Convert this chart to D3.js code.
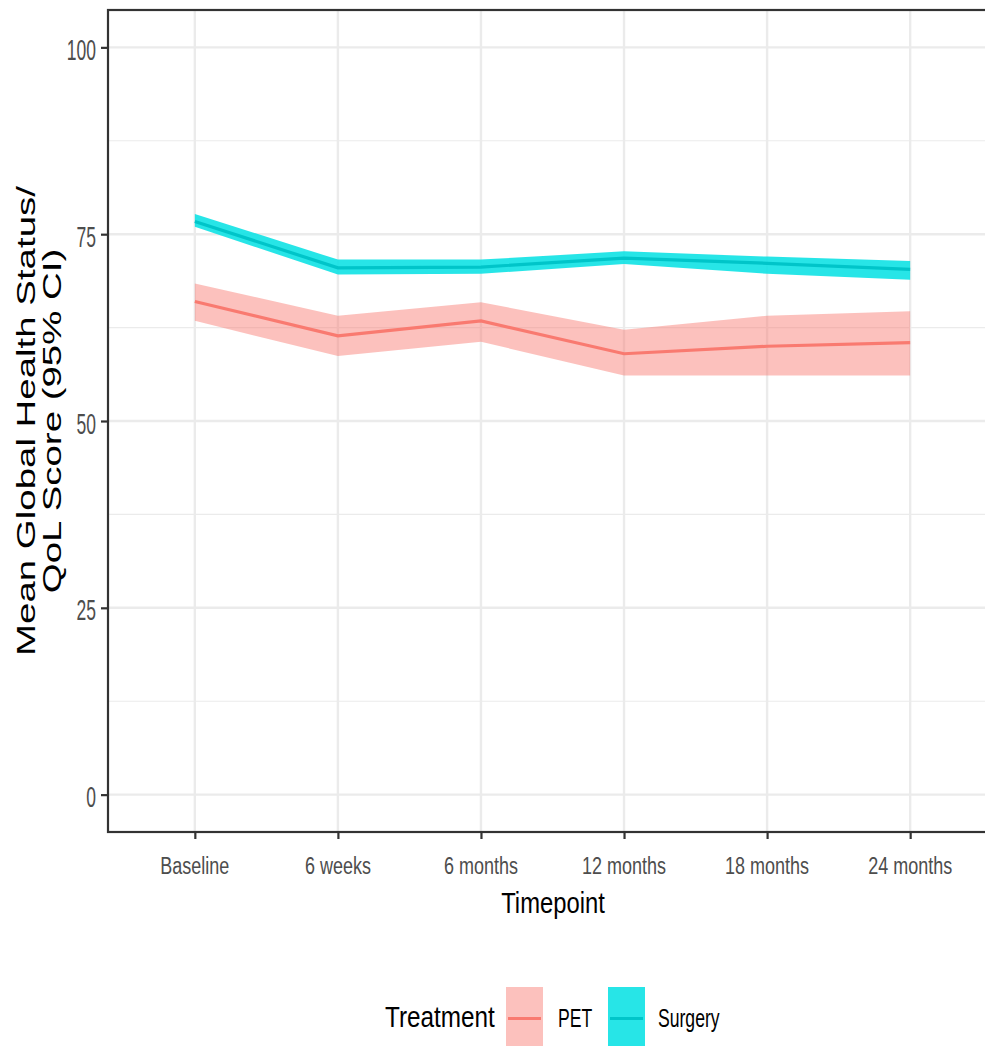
<!DOCTYPE html>
<html>
<head>
<meta charset="utf-8">
<script src="https://cdn.jsdelivr.net/npm/d3@7"></script>
<style>
  html, body { margin: 0; padding: 0; background: #ffffff; }
  svg { display: block; }
  text { font-family: "Liberation Sans", Arial, sans-serif; }
</style>
</head>
<body>
<svg id="chart" width="985" height="1046"></svg>
<script>
// ---------------- data ----------------
const timepoints = ["Baseline", "6 weeks", "6 months", "12 months", "18 months", "24 months"];
const groups = ["PET", "Surgery"];
const petMean  = [66.0, 61.4, 63.4, 59.0, 60.0, 60.5];
const petLower = [63.4, 58.7, 60.6, 56.1, 56.1, 56.1];
const petUpper = [68.4, 64.1, 65.9, 62.2, 64.1, 64.7];
const surgMean  = [76.7, 70.5, 70.6, 71.8, 71.1, 70.3];
const surgLower = [76.0, 69.6, 69.7, 71.0, 69.7, 68.9];
const surgUpper = [77.7, 71.6, 71.6, 72.7, 72.0, 71.4];
const yTicks = [0, 25, 50, 75, 100];
const yMinor = [12.5, 37.5, 62.5, 87.5];

// ---------------- layout ----------------
const svg = d3.select("#chart");
const P = { left: 108, right: 998, top: 10, bottom: 832 };

const x = d3.scalePoint().domain(timepoints).range([P.left + 1, P.right - 2]).padding(0.6);
const y = d3.scaleLinear().domain([-5, 105]).range([P.bottom, P.top]);

const series = [
  { name: "PET", mean: petMean, lo: petLower, hi: petUpper, line: "#F97A70", fill: "#F8766D", fillOp: 0.45 },
  { name: "Surgery", mean: surgMean, lo: surgLower, hi: surgUpper, line: "#00C5C9", fill: "#10E2E4", fillOp: 0.9 }
];

// helper for stretched text
function sText(g, str, tx, ty, size, sx, sy, anchor, color) {
  return g.append("text")
    .attr("transform", `translate(${tx},${ty}) scale(${sx},${sy})`)
    .attr("font-size", size)
    .attr("text-anchor", anchor)
    .attr("fill", color)
    .text(str);
}

// grid
const grid = svg.append("g");
grid.selectAll(".minor").data(yMinor).join("line")
  .attr("x1", P.left).attr("x2", 985)
  .attr("y1", d => y(d)).attr("y2", d => y(d))
  .attr("stroke", "#EBEBEB").attr("stroke-width", 1.2);
grid.selectAll(".major").data(yTicks).join("line")
  .attr("x1", P.left).attr("x2", 985)
  .attr("y1", d => y(d)).attr("y2", d => y(d))
  .attr("stroke", "#EBEBEB").attr("stroke-width", 2.4);
grid.selectAll(".vx").data(timepoints).join("line")
  .attr("x1", d => x(d)).attr("x2", d => x(d))
  .attr("y1", P.top).attr("y2", P.bottom)
  .attr("stroke", "#EBEBEB").attr("stroke-width", 2.4);

// ribbons & lines
const area = d3.area()
  .x((d, i) => x(timepoints[i]))
  .y0(d => y(d[0])).y1(d => y(d[1]));
const line = d3.line()
  .x((d, i) => x(timepoints[i]))
  .y(d => y(d));

series.forEach(s => {
  const band = s.lo.map((v, i) => [v, s.hi[i]]);
  svg.append("path").attr("d", area(band))
    .attr("fill", s.fill).attr("fill-opacity", s.fillOp);
});
series.forEach(s => {
  svg.append("path").attr("d", line(s.mean))
    .attr("fill", "none").attr("stroke", s.line).attr("stroke-width", 3.2);
});

// panel border
svg.append("rect")
  .attr("x", P.left).attr("y", P.top)
  .attr("width", P.right - P.left + 20).attr("height", P.bottom - P.top)
  .attr("fill", "none").attr("stroke", "#333333").attr("stroke-width", 2.2);

// axes
const yAxis = svg.append("g").attr("transform", `translate(${P.left},0)`)
  .call(d3.axisLeft(y).tickValues(yTicks).tickSize(7).tickFormat(d3.format("d")));
yAxis.select(".domain").remove();
yAxis.selectAll(".tick line").attr("stroke", "#333333").attr("stroke-width", 2.2);
yAxis.selectAll(".tick text").remove();
yTicks.forEach(v => {
  sText(svg, String(v), P.left - 12, y(v) + 12.5, 17.5, 1, 1.67, "end", "#4D4D4D");
});

const xAxis = svg.append("g").attr("transform", `translate(0,${P.bottom})`)
  .call(d3.axisBottom(x).tickSize(7));
xAxis.select(".domain").remove();
xAxis.selectAll(".tick line").attr("stroke", "#333333").attr("stroke-width", 2.2);
xAxis.selectAll(".tick text").remove();
timepoints.forEach(t => {
  sText(svg, t, x(t), 874, 18, 1, 1.33, "middle", "#4D4D4D");
});

// axis titles
sText(svg, "Timepoint", (P.left + P.right) / 2, 913, 23.8, 1, 1.27, "middle", "#000000");

const midY = (P.top + P.bottom) / 2;
svg.append("text")
  .attr("transform", `translate(35,${midY}) rotate(-90) scale(1.45,1)`)
  .attr("font-size", 26.5).attr("text-anchor", "middle").attr("fill", "#000")
  .text("Mean Global Health Status/");
svg.append("text")
  .attr("transform", `translate(61,${midY}) rotate(-90) scale(1.45,1)`)
  .attr("font-size", 26.5).attr("text-anchor", "middle").attr("fill", "#000")
  .text("QoL Score (95% CI)");

// legend
const legend = svg.append("g");
sText(legend, "Treatment", 385, 1027, 24.3, 1, 1.25, "start", "#000000");
const keyX = [506, 608];
const labX = [558, 658];
series.forEach((s, i) => {
  legend.append("rect")
    .attr("x", keyX[i]).attr("y", 987).attr("width", 37).attr("height", 63)
    .attr("fill", s.fill).attr("fill-opacity", s.fillOp);
  legend.append("line")
    .attr("x1", keyX[i] + 2).attr("x2", keyX[i] + 35)
    .attr("y1", 1018.5).attr("y2", 1018.5)
    .attr("stroke", s.line).attr("stroke-width", 3.2);
  sText(legend, groups[i], labX[i], 1027, 17.6, 1, 1.45, "start", "#000000");
});
</script>
</body>
</html>
